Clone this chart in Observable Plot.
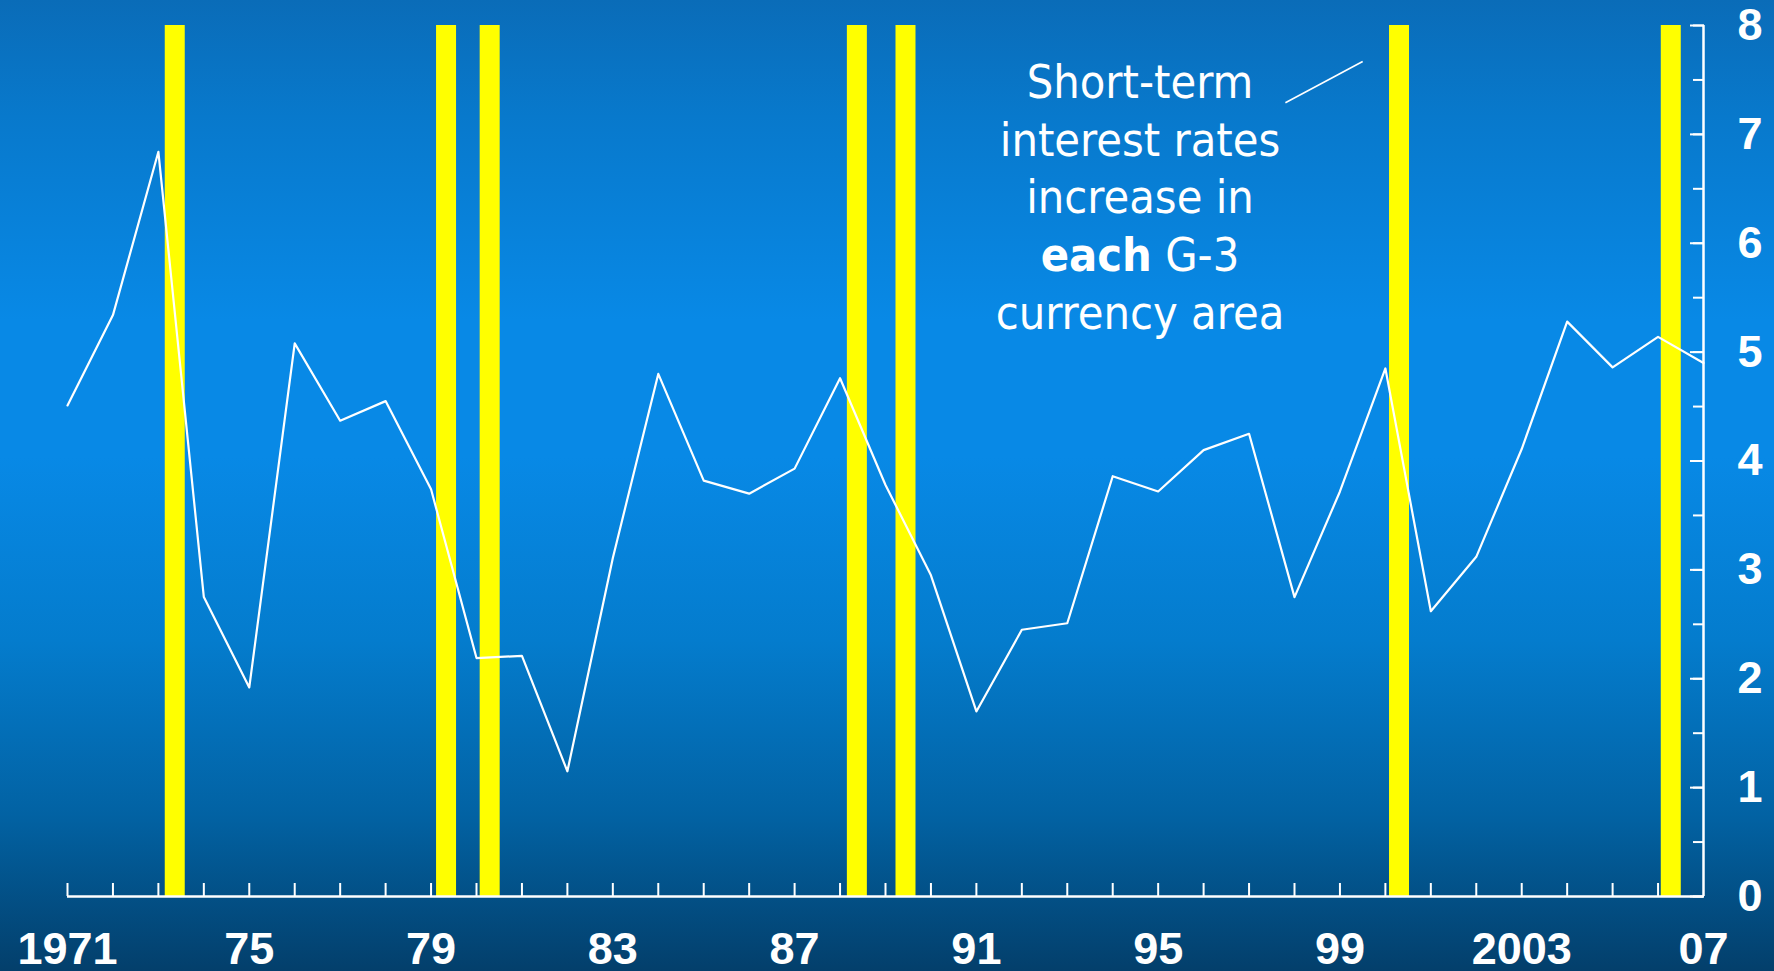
<!DOCTYPE html>
<html>
<head>
<meta charset="utf-8">
<script src="https://cdn.jsdelivr.net/npm/d3@7"></script>
<script src="https://cdn.jsdelivr.net/npm/@observablehq/plot@0.6"></script>
<style>
  html, body { margin: 0; padding: 0; width: 1774px; height: 971px; overflow: hidden; }
  body {
    background: linear-gradient(to bottom,
      #0a6cb8 0%, #0879cc 12%, #0889e6 33%, #0889e6 47%, #047ccd 66%, #0262a3 84%, #033f6b 100%);
  }
  svg { display: block; }
</style>
</head>
<body>
<div id="chart"></div>
<script>
// Years and short-term interest rate series
const years = d3.range(1971, 2008);
const rates = [4.51, 5.34, 6.84, 2.75, 1.92, 5.08, 4.37, 4.55, 3.74, 2.19,
               2.21, 1.15, 3.11, 4.80, 3.82, 3.70, 3.93, 4.76, 3.78, 2.95,
               1.70, 2.45, 2.51, 3.86, 3.72, 4.10, 4.25, 2.75, 3.72, 4.85,
               2.62, 3.12, 4.11, 5.28, 4.86, 5.14, 4.90];

// Periods when short-term rates increased in each G-3 currency area (yellow bars)
const barDates = [1973.36, 1979.33, 1980.29, 1988.37, 1989.44, 2000.3, 2006.28];

// X tick labels
const labelYears = [1971, 1975, 1979, 1983, 1987, 1991, 1995, 1999, 2003, 2007];
const labelTexts = ["1971", "75", "79", "83", "87", "91", "95", "99", "2003", "07"];
const tickYears = d3.range(1971, 2007);

// Y ticks
const yMajor = d3.range(0, 9);
const yMinor = d3.range(0, 8.01, 0.5);

// Annotation
const annotLines = ["Short-term", "interest rates", "increase in", "each G-3", "currency area"];
const annot = [{x: 1994.6, y: 7.71, text: annotLines.join("\n")}];
const leader = [{x1: 1997.8, y1: 7.29, x2: 1999.5, y2: 7.67}];

const data = years.map((y, i) => ({year: y, rate: rates[i]}));
const labelMap = new Map(labelYears.map((y, i) => [y, labelTexts[i]]));

const WHITE = "#ffffff";
const numFont = "'Liberation Sans', Arial, sans-serif";

const chart = Plot.plot({
  width: 1774,
  height: 971,
  marginLeft: 67,
  marginRight: 71,
  marginTop: 25,
  marginBottom: 75,
  style: {background: "transparent", color: WHITE, fontFamily: numFont, overflow: "visible"},
  x: {type: "linear", domain: [1971, 2007]},
  y: {domain: [0, 8]},
  marks: [
    Plot.ruleX(barDates, {x: d => d, y1: 0, y2: 8, stroke: "#ffff00", strokeWidth: 20}),
    Plot.line(data, {x: "year", y: "rate", stroke: WHITE, strokeWidth: 2.2}),
    // axis lines
    Plot.ruleY([0], {stroke: WHITE, strokeWidth: 2.5}),
    Plot.ruleX([years[years.length - 1]], {stroke: WHITE, strokeWidth: 2.5}),
    // x ticks (pointing up)
    Plot.axisX(tickYears, {tickSize: 13, dy: -13, tickFormat: () => "", stroke: WHITE, strokeWidth: 2, label: null}),
    // x labels
    Plot.axisX(labelYears, {tickSize: 0, tickPadding: 36, tickFormat: d => labelMap.get(d),
      fontSize: 45, fontWeight: "bold", fill: WHITE, label: null}),
    // y minor & major ticks (pointing left)
    Plot.axisY(yMinor, {anchor: "right", tickSize: 11, dx: -11, tickFormat: () => "", stroke: WHITE, strokeWidth: 2, label: null}),
    Plot.axisY(yMajor, {anchor: "right", tickSize: 14, dx: -14, tickFormat: () => "", stroke: WHITE, strokeWidth: 2, label: null}),
    // y labels
    Plot.axisY(yMajor, {anchor: "right", tickSize: 0, tickPadding: 34, tickFormat: d => String(d),
      fontSize: 45, fontWeight: "bold", fill: WHITE, label: null}),
    // annotation
    Plot.text(annot, {x: "x", y: "y", text: "text", textAnchor: "middle", lineAnchor: "top",
      lineHeight: 1.24, fontSize: 46.5, fill: WHITE,
      fontFamily: "'DejaVu Sans Condensed', 'DejaVu Sans', sans-serif"}),
    Plot.link(leader, {x1: "x1", y1: "y1", x2: "x2", y2: "y2", stroke: WHITE, strokeWidth: 1.6})
  ]
});

document.getElementById("chart").appendChild(chart);

// Bold "each" in the annotation
chart.querySelectorAll("tspan").forEach(t => {
  if (t.textContent === "each G-3") {
    t.textContent = "";
    const ns = "http://www.w3.org/2000/svg";
    const b = document.createElementNS(ns, "tspan");
    b.setAttribute("font-weight", "bold");
    b.textContent = "each";
    t.appendChild(b);
    t.appendChild(document.createTextNode(" G-3"));
  }
});
</script>
</body>
</html>
